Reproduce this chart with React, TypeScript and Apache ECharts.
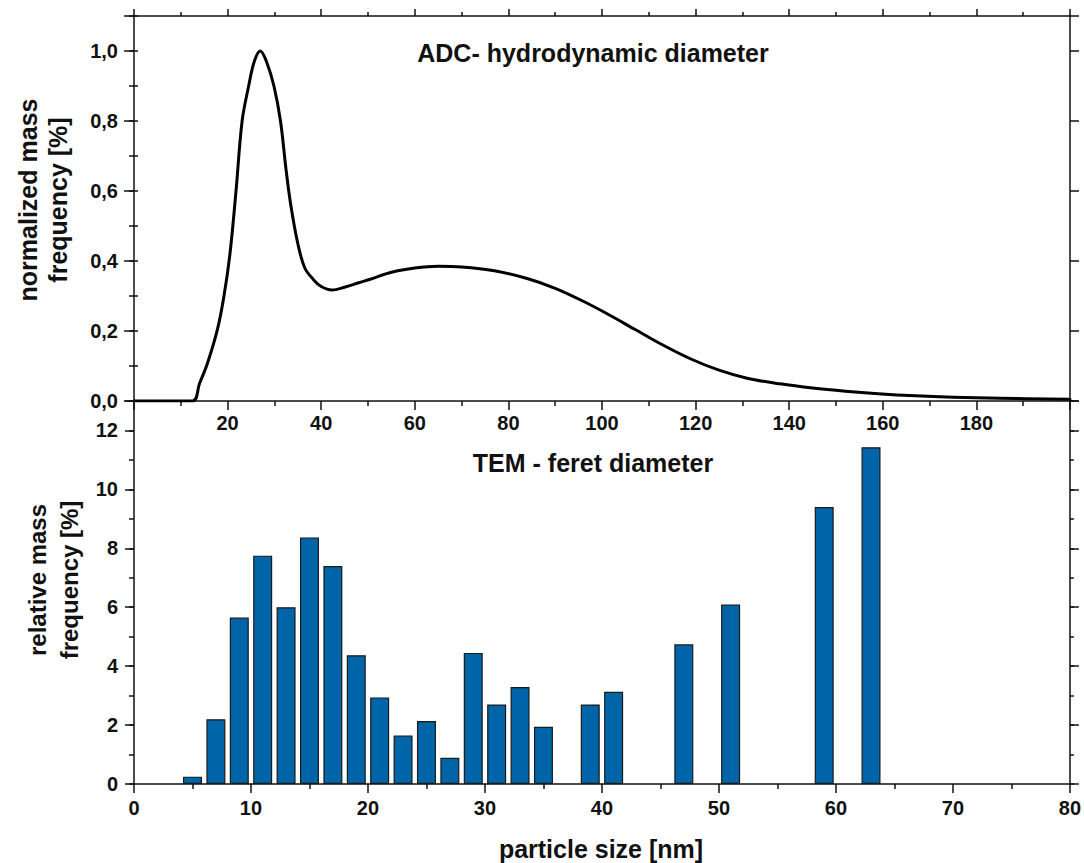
import React, { useEffect, useRef } from "react";
import * as echarts from "echarts";

// ADC hydrodynamic diameter curve (particle size nm, normalized mass frequency)
const adcX = [0, 12.5, 14, 15.7, 17.8, 19.2, 20.5, 21.8, 23.1, 24.5, 25.7, 27, 28.3, 29.9, 31.3, 32.5, 33.5, 35, 36.5, 38.4, 40, 42.3, 45, 48, 50.5, 55, 60, 65, 70, 77, 84, 90, 96, 101, 107, 113, 119, 125, 131, 138, 145, 152, 159, 167, 175, 185, 200];
const adcY = [0, 0, 0.05, 0.108, 0.203, 0.298, 0.42, 0.6, 0.8, 0.9, 0.97, 1.0, 0.97, 0.9, 0.8, 0.66, 0.56, 0.45, 0.38, 0.346, 0.327, 0.317, 0.325, 0.338, 0.348, 0.368, 0.38, 0.385, 0.383, 0.372, 0.35, 0.322, 0.285, 0.25, 0.205, 0.16, 0.12, 0.088, 0.065, 0.049, 0.037, 0.028, 0.021, 0.015, 0.011, 0.008, 0.005];

// TEM feret diameter histogram (bin centre nm, relative mass frequency %)
const temX = [5, 7, 9, 11, 13, 15, 17, 19, 21, 23, 25, 27, 29, 31, 33, 35, 39, 41, 47, 51, 59, 63];
const temY = [0.25, 2.2, 5.65, 7.75, 6.0, 8.37, 7.4, 4.37, 2.94, 1.65, 2.14, 0.89, 4.45, 2.7, 3.29, 1.94, 2.7, 3.13, 4.74, 6.09, 9.4, 11.43];

const titleTop = "ADC- hydrodynamic diameter";
const titleBottom = "TEM - feret diameter";
const yNameTop = "normalized mass\nfrequency [%]";
const yNameBottom = "relative mass\nfrequency [%]";
const xNameBottom = "particle size [nm]";

const FONT = "'Liberation Sans', Arial, sans-serif";
const INK = "#111";

export default function App() {
  const ref = useRef<HTMLDivElement>(null);
  useEffect(() => {
    if (!ref.current) return;
    const chart = echarts.init(ref.current, undefined, { renderer: "svg" });
    const line = { show: true, onZero: false, lineStyle: { color: INK, width: 1.5 } };
    const lbl = { fontFamily: FONT, fontWeight: "bold" as const, fontSize: 20, color: INK };
    const tick = (len: number, inside = false) => ({ show: true, length: len, inside, lineStyle: { color: INK, width: 1.5 } });
    const noSplit = { show: false };

    const commaFmt = (max: number, digits: number) => (v: number) =>
      Math.abs(v - max) < 1e-9 ? "" : v.toFixed(digits).replace(".", ",");

    const xAxes: any[] = [
      {
        gridIndex: 0, type: "value", position: "bottom", min: 0, max: 200, interval: 20,
        axisLine: line, axisTick: tick(9), minorTick: { show: true, splitNumber: 2, length: 5, lineStyle: { color: INK, width: 1.5 } },
        axisLabel: { ...lbl, margin: 12, formatter: (v: number) => (v === 0 || v === 200 ? "" : String(v)) },
        splitLine: noSplit,
      },
      {
        gridIndex: 0, type: "value", position: "top", min: 0, max: 200, interval: 20,
        axisLine: line, axisTick: tick(7), minorTick: { show: true, splitNumber: 2, length: 4, lineStyle: { color: INK, width: 1.5 } },
        axisLabel: { show: false }, splitLine: noSplit,
      },
      {
        gridIndex: 1, type: "value", position: "bottom", min: 0, max: 80, interval: 10,
        axisLine: line, axisTick: tick(9), minorTick: { show: true, splitNumber: 2, length: 5, lineStyle: { color: INK, width: 1.5 } },
        axisLabel: { ...lbl, margin: 14 }, splitLine: noSplit,
      },
    ];

    const yAxes: any[] = [
      // top grid
      {
        gridIndex: 0, type: "value", position: "left", min: 0, max: 1.1, interval: 0.2,
        axisLine: line, axisTick: tick(10), axisLabel: { ...lbl, margin: 16, formatter: commaFmt(1.1, 1) }, splitLine: noSplit,
      },
      {
        gridIndex: 0, type: "value", position: "left", min: 0, max: 1.1, interval: 0.1,
        axisLine: { show: false }, axisTick: tick(5), axisLabel: { show: false }, splitLine: noSplit,
      },
      {
        gridIndex: 0, type: "value", position: "right", min: 0, max: 1.1, interval: 0.2,
        axisLine: line, axisTick: tick(9), axisLabel: { show: false }, splitLine: noSplit,
      },
      {
        gridIndex: 0, type: "value", position: "right", min: 0, max: 1.1, interval: 0.1,
        axisLine: { show: false }, axisTick: tick(4), axisLabel: { show: false }, splitLine: noSplit,
      },
      // bottom grid
      {
        gridIndex: 1, type: "value", position: "left", min: 0, max: 13, interval: 2,
        axisLine: line, axisTick: tick(9), axisLabel: { ...lbl, margin: 16, formatter: (v: number) => (v === 13 ? "" : String(v)) }, splitLine: noSplit,
      },
      {
        gridIndex: 1, type: "value", position: "left", min: 0, max: 13, interval: 1,
        axisLine: { show: false }, axisTick: tick(5), axisLabel: { show: false }, splitLine: noSplit,
      },
      {
        gridIndex: 1, type: "value", position: "right", min: 0, max: 13, interval: 2,
        axisLine: line, axisTick: tick(9), axisLabel: { show: false }, splitLine: noSplit,
      },
      {
        gridIndex: 1, type: "value", position: "right", min: 0, max: 13, interval: 1,
        axisLine: { show: false }, axisTick: tick(4), axisLabel: { show: false }, splitLine: noSplit,
      },
    ];

    const textStyle = (size: number) => ({ fontFamily: FONT, fontWeight: "bold", fontSize: size, fill: INK, textAlign: "center", textVerticalAlign: "middle" });

    chart.setOption({
      animation: false,
      backgroundColor: "#fff",
      grid: [
        { left: 134, top: 16, width: 936, height: 385 },
        { left: 134, top: 401, width: 936, height: 383 },
      ],
      xAxis: xAxes,
      yAxis: yAxes,
      series: [
        {
          type: "line",
          xAxisIndex: 0,
          yAxisIndex: 0,
          data: adcX.map((x, i) => [x, adcY[i]]),
          showSymbol: false,
          smooth: 0.35,
          lineStyle: { color: "#000", width: 3, join: "round", cap: "round" },
        },
        {
          type: "bar",
          xAxisIndex: 2,
          yAxisIndex: 4,
          data: temX.map((x, i) => [x, temY[i]]),
          barWidth: 19,
          itemStyle: { color: "#0064a8", borderColor: "#1a1a1a", borderWidth: 1.2 },
        },
      ],
      graphic: [
        { type: "text", x: 593, y: 53, style: { text: titleTop, ...textStyle(25) } },
        { type: "text", x: 593, y: 463, style: { text: titleBottom, ...textStyle(25) } },
        { type: "text", x: 601, y: 849, style: { text: xNameBottom, ...textStyle(25) } },
        { type: "text", x: 43, y: 200, rotation: Math.PI / 2, style: { text: yNameTop, lineHeight: 30, ...textStyle(25) } },
        { type: "text", x: 53, y: 580, rotation: Math.PI / 2, style: { text: yNameBottom, lineHeight: 32, ...textStyle(24) } },
      ],
    });
    return () => chart.dispose();
  }, []);
  return <div ref={ref} style={{ position: "absolute", left: 0, top: 0, width: 1084, height: 863 }} />;
}
